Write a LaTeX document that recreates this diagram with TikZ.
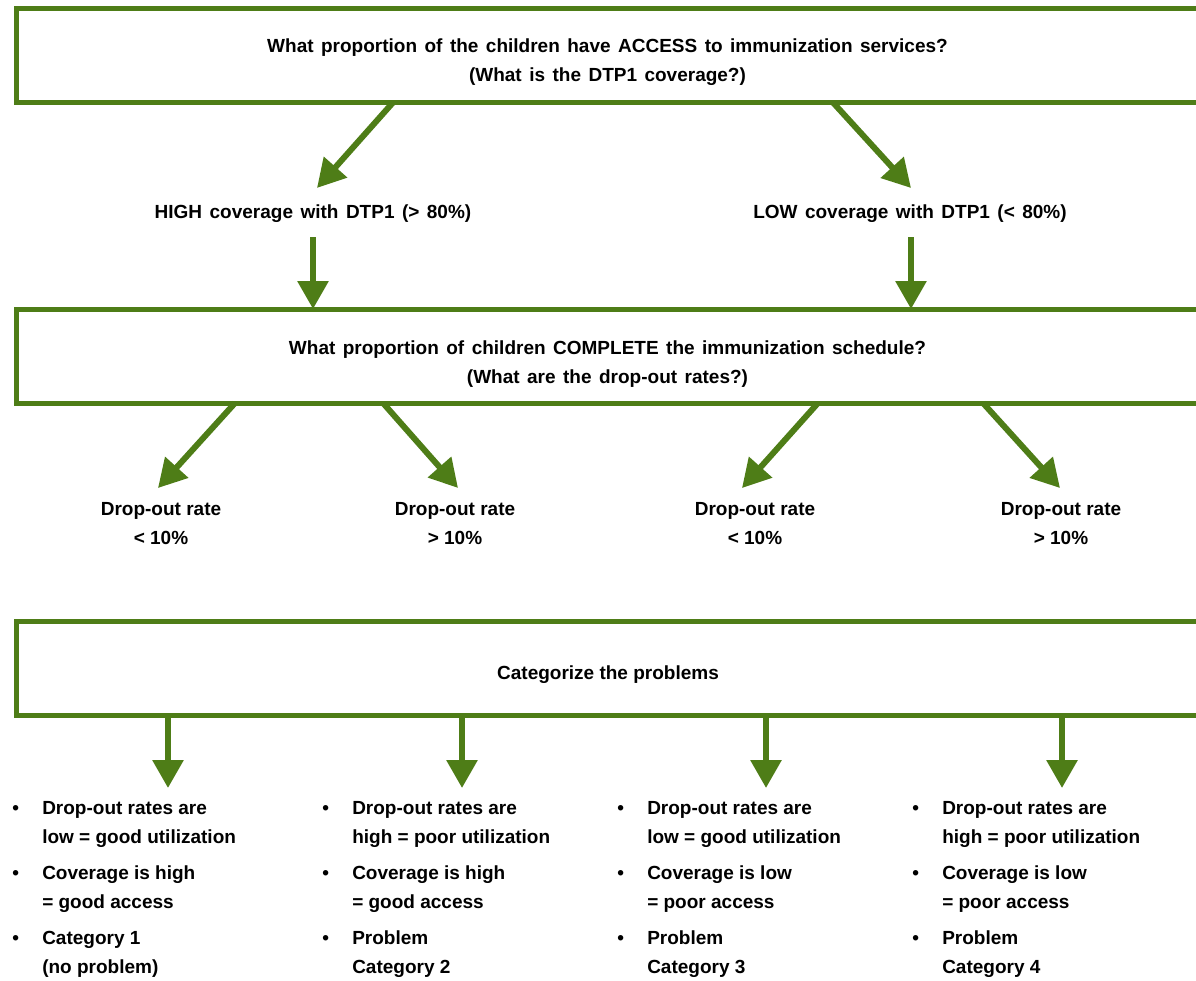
\documentclass[tikz,border=0pt]{standalone}
\usepackage{fontspec}
\setmainfont{Liberation Sans}
\usetikzlibrary{arrows.meta}
\definecolor{leaf}{RGB}{78,125,23}

\begin{document}
\begin{tikzpicture}[x=0.75pt,y=-0.75pt]
\tikzstyle{box}=[draw=leaf,line width=3.75pt,outer sep=0pt,minimum width=886.9pt,minimum height=70.5pt]
\tikzstyle{txt}=[font={\bfseries\fontsize{14.25pt}{21.75pt}\selectfont},align=center,inner sep=0pt,anchor=base]
\tikzstyle{hdr}=[txt,font={\bfseries\fontsize{14.25pt}{21.75pt}\selectfont\spaceskip=5.6pt\relax}]
\tikzstyle{lst}=[txt,align=left,anchor=base west]
\tikzstyle{arr}=[color=leaf,line width=4.5pt,-{Triangle[length=21pt,width=22.5pt]}]
\useasboundingbox (0,0) rectangle (1196,981);

% the three boxes
\node [box] (q1) at (607.75,55.5) {};
\node [box] (q2) at (607.75,356) {};
\node [box] (q3) at (607.75,668.25) {};
\node [hdr] (t1) at (607.5,82) {What proportion of the children have ACCESS to immunization services?\\(What is the DTP1 coverage?)};
\node [hdr] (t2) at (607.5,383) {What proportion of children COMPLETE the immunization schedule?\\(What are the drop-out rates?)};
\node [txt] (t3) at (608,679) {Categorize the problems};

% coverage
\node [hdr] (hi) at (313,218) {HIGH coverage with DTP1 (> 80\%)};
\node [hdr] (lo) at (910,218) {LOW coverage with DTP1 (< 80\%)};

% drop-out rates
\node [txt] (d1) at (161,544) {Drop-out rate\\< 10\%};
\node [txt] (d2) at (455,544) {Drop-out rate\\> 10\%};
\node [txt] (d3) at (755,544) {Drop-out rate\\< 10\%};
\node [txt] (d4) at (1061,544) {Drop-out rate\\> 10\%};

% categories
\node [lst] (l1) at (42,973) {\llap{\textbullet\hspace{17.5pt}}Drop-out rates are\\low = good utilization\\[5.25pt]
  \llap{\textbullet\hspace{17.5pt}}Coverage is high\\= good access\\[5.25pt]
  \llap{\textbullet\hspace{17.5pt}}Category 1\\(no problem)};
\node [lst] (l2) at (352,973) {\llap{\textbullet\hspace{17.5pt}}Drop-out rates are\\high = poor utilization\\[5.25pt]
  \llap{\textbullet\hspace{17.5pt}}Coverage is high\\= good access\\[5.25pt]
  \llap{\textbullet\hspace{17.5pt}}Problem\\Category 2};
\node [lst] (l3) at (647,973) {\llap{\textbullet\hspace{17.5pt}}Drop-out rates are\\low = good utilization\\[5.25pt]
  \llap{\textbullet\hspace{17.5pt}}Coverage is low\\= poor access\\[5.25pt]
  \llap{\textbullet\hspace{17.5pt}}Problem\\Category 3};
\node [lst] (l4) at (942,973) {\llap{\textbullet\hspace{17.5pt}}Drop-out rates are\\high = poor utilization\\[5.25pt]
  \llap{\textbullet\hspace{17.5pt}}Coverage is low\\= poor access\\[5.25pt]
  \llap{\textbullet\hspace{17.5pt}}Problem\\Category 4};

% arrow tips
\coordinate (a1) at (317,188);
\coordinate (a2) at (911,188);
\coordinate (b1) at (158,488);
\coordinate (b2) at (458,488);
\coordinate (b3) at (742,488);
\coordinate (b4) at (1060,488);
\coordinate (c1) at (168,788);
\coordinate (c2) at (462,788);
\coordinate (c3) at (766,788);
\coordinate (c4) at (1062,788);

\path[arr]
(q1.south -| 393,0) edge (a1)
(q1.south -| 833,0) edge (a2)
(313,237) edge (q2.north -| 313,0)
(911,237) edge (q2.north -| 911,0)
(q2.south -| 235,0) edge (b1)
(q2.south -| 383,0) edge (b2)
(q2.south -| 818,0) edge (b3)
(q2.south -| 983,0) edge (b4)
(q3.south -| c1) edge (c1)
(q3.south -| c2) edge (c2)
(q3.south -| c3) edge (c3)
(q3.south -| c4) edge (c4);
\end{tikzpicture}
\end{document}
